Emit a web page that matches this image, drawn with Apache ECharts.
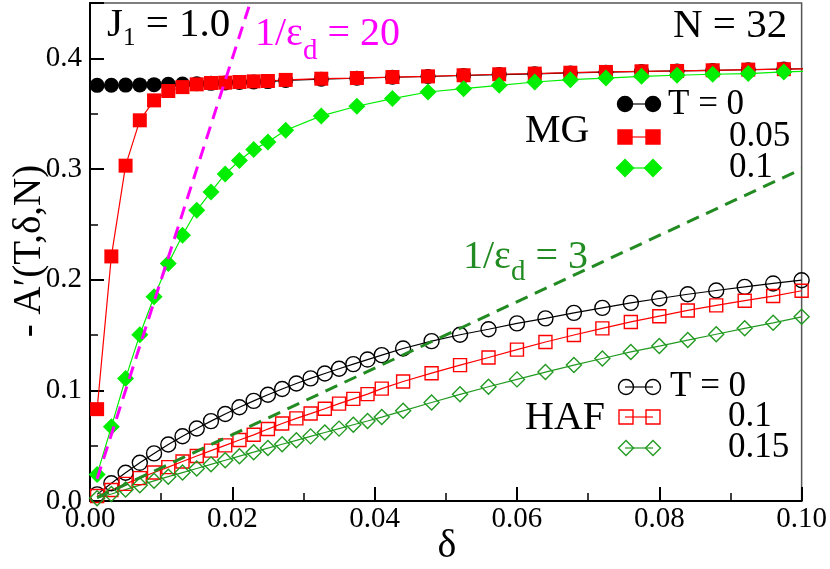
<!DOCTYPE html>
<html>
<head>
<meta charset="utf-8">
<script src="https://cdn.jsdelivr.net/npm/echarts@6/dist/echarts.min.js"></script>
<style>
  html, body { margin: 0; padding: 0; background: #fff; }
  #chart { width: 830px; height: 569px; }
</style>
</head>
<body>
<div id="chart"></div>
<script>
// MG chain: delta values and -A' for T = 0, 0.05, 0.1
const mgDelta = [0.001, 0.003, 0.005, 0.007, 0.009, 0.011, 0.013, 0.015, 0.017, 0.019, 0.021, 0.023, 0.025, 0.0275,
                 0.0325, 0.0375, 0.0425, 0.0475, 0.0525, 0.0575, 0.0625, 0.0675, 0.0725, 0.0775, 0.0825, 0.0875, 0.0925, 0.0975, 0.1025];
const mgT0   = [0.3756, 0.3757, 0.3758, 0.3760, 0.3762, 0.3765, 0.3768, 0.3771, 0.3774, 0.3778, 0.3782, 0.3786, 0.3790, 0.3800,
                0.3812, 0.3820, 0.3829, 0.3836, 0.3845, 0.3853, 0.3860, 0.3868, 0.3875, 0.3881, 0.3886, 0.3891, 0.3897, 0.3903, 0.3908];
const mgT005 = [0.083, 0.221, 0.303, 0.344, 0.362, 0.3705, 0.374, 0.3765, 0.3777, 0.378, 0.3786, 0.3792, 0.3795, 0.3805,
                0.3816, 0.3822, 0.3831, 0.3837, 0.3847, 0.3856, 0.3862, 0.387, 0.3877, 0.3883, 0.3886, 0.3892, 0.3898, 0.3902, 0.3907];
const mgT01  = [0.024, 0.067, 0.1108, 0.1503, 0.1845, 0.2146, 0.2402, 0.2627, 0.2793, 0.2955, 0.3076, 0.3177, 0.3245, 0.335,
                0.348, 0.3567, 0.3636, 0.3696, 0.3726, 0.3756, 0.3786, 0.3807, 0.3822, 0.3837, 0.3847, 0.3856, 0.3862, 0.3877, 0.3885];

// HAF chain: delta values and -A' for T = 0, 0.1, 0.15
const hafDelta = [0.001, 0.003, 0.005, 0.007, 0.009, 0.011, 0.013, 0.015, 0.017, 0.019, 0.021, 0.023, 0.025, 0.027,
                  0.029, 0.031, 0.033, 0.035, 0.037, 0.039, 0.041, 0.044, 0.048, 0.052, 0.056, 0.060, 0.064, 0.068,
                  0.072, 0.076, 0.080, 0.084, 0.088, 0.092, 0.096, 0.100];
const hafT0   = [0.006, 0.0160, 0.0255, 0.0345, 0.0430, 0.0510, 0.0585, 0.0655, 0.0722, 0.0786, 0.0847, 0.0905, 0.0960, 0.1012,
                 0.1062, 0.1108, 0.1152, 0.1195, 0.1237, 0.1278, 0.1318, 0.1378, 0.1445, 0.1502, 0.1552, 0.1605, 0.1650, 0.1700,
                 0.1745, 0.1790, 0.1830, 0.1868, 0.1902, 0.1935, 0.1966, 0.1995];
const hafT01  = [0.0045, 0.0100, 0.0155, 0.0207, 0.0257, 0.0306, 0.0357, 0.0407, 0.0455, 0.0503, 0.0551, 0.0598, 0.0650, 0.0700,
                 0.0747, 0.0790, 0.0834, 0.0880, 0.0923, 0.0966, 0.1015, 0.1080, 0.1155, 0.1228, 0.1297, 0.1368, 0.1437, 0.1500,
                 0.1560, 0.1618, 0.1670, 0.1722, 0.1768, 0.1810, 0.1852, 0.1900];
const hafT015 = [0.0025, 0.0063, 0.0103, 0.0143, 0.0182, 0.0220, 0.0257, 0.0294, 0.0331, 0.0368, 0.0405, 0.0441, 0.0478, 0.0513,
                 0.0548, 0.0584, 0.0619, 0.0654, 0.0689, 0.0723, 0.0758, 0.0815, 0.0890, 0.0964, 0.1032, 0.1099, 0.1165, 0.1228,
                 0.1288, 0.1347, 0.1400, 0.1454, 0.1507, 0.1560, 0.1610, 0.1664];

// dashed reference lines, endpoints
const eps20X = [0.001, 0.0225];
const eps20Y = [0.02, 0.45];
const eps3X = [0.001, 0.1];
const eps3Y = [0.003, 0.3];

const xTickLabels = ['0.00', '0.02', '0.04', '0.06', '0.08', '0.10'];
const yTickLabels = ['0.0', '0.1', '0.2', '0.3', '0.4'];

const FONT = '"Liberation Serif", "Times New Roman", serif';
const GREEN = '#00ee00';
const DKGREEN = '#229a22';

const pairs = (xs, ys) => xs.map((x, i) => [x, ys[i]]);

const lineSeries = (name, xs, ys, symbol, size, color, hollow) => ({
    name: name,
    type: 'line',
    data: pairs(xs, ys),
    symbol: symbol,
    symbolSize: size,
    clip: true,
    lineStyle: { color: color, width: 1.2 },
    itemStyle: hollow
        ? { color: 'rgba(255,255,255,0)', borderColor: color, borderWidth: 1.4 }
        : { color: color },
    animation: false,
});

const dashSeries = (xs, ys, color) => ({
    type: 'line',
    data: pairs(xs, ys),
    symbol: 'none',
    clip: true,
    z: 5,
    lineStyle: { color: color, width: 3, type: [13, 8] },
    animation: false,
});

const txt = (x, y, text, size, color, rich) => ({
    type: 'text',
    x: x,
    y: y,
    style: {
        text: text,
        fontSize: size,
        fontFamily: FONT,
        fill: color,
        verticalAlign: 'middle',
        rich: rich || {},
    },
});

const sub = (size, pad, color) => ({ s: { fontSize: size, fontFamily: FONT, fill: color, padding: [pad, 0, 0, 0] } });

// legend entries: line with two markers
const legendLine = (y, color) => ({ type: 'line', shape: { x1: 625, y1: y, x2: 653, y2: y }, style: { stroke: color, lineWidth: 1.2 } });
const legendCircle = (x, y, fill, stroke) => ({ type: 'circle', shape: { cx: x, cy: y, r: 7.5 }, style: { fill: fill, stroke: stroke, lineWidth: 1.4 } });
const legendRect = (x, y, fill, stroke) => ({ type: 'rect', shape: { x: x - 7, y: y - 7, width: 14, height: 14 }, style: { fill: fill, stroke: stroke, lineWidth: 1.4 } });
const legendDiamond = (x, y, r, fill, stroke) => ({ type: 'polygon', shape: { points: [[x, y - r], [x + r, y], [x, y + r], [x - r, y]] }, style: { fill: fill, stroke: stroke, lineWidth: 1.4 } });

const chart = echarts.init(document.getElementById('chart'));

const axisCommon = {
    axisLine: { onZero: false, lineStyle: { color: '#000', width: 2 } },
    splitLine: { show: false },
};

chart.setOption({
    backgroundColor: '#fff',
    animation: false,
    grid: { left: 90, right: 28, top: 3, bottom: 68, show: true, borderColor: '#555', borderWidth: 1.5 },
    xAxis: {
        type: 'value', min: 0, max: 0.1, interval: 0.02,
        ...axisCommon,
        axisTick: { inside: true, length: 14, lineStyle: { color: '#000', width: 2 } },
        minorTick: { show: true, splitNumber: 2, length: 8, lineStyle: { color: '#000', width: 1.5 } },
        axisLabel: { formatter: (v, i) => xTickLabels[i] || '', fontFamily: FONT, fontSize: 29, color: '#000', margin: 4 },
    },
    yAxis: [
        {
            type: 'value', min: 0, max: 0.45, interval: 0.1,
            ...axisCommon,
            axisTick: { inside: true, length: 14, lineStyle: { color: '#000', width: 2 } },
            axisLabel: { formatter: (v, i) => yTickLabels[i] || '', fontFamily: FONT, fontSize: 29, color: '#000', margin: 8 },
        },
        {
            type: 'value', min: 0, max: 0.45, interval: 0.05, position: 'left',
            ...axisCommon,
            axisTick: { inside: true, length: 8, lineStyle: { color: '#000', width: 1.5 } },
            axisLabel: { show: false },
        },
    ],
    series: [
        lineSeries('MG T = 0', mgDelta, mgT0, 'circle', 15, '#000', false),
        lineSeries('MG T = 0.05', mgDelta, mgT005, 'rect', 14, '#ff0000', false),
        lineSeries('MG T = 0.1', mgDelta, mgT01, 'diamond', 17, GREEN, false),
        lineSeries('HAF T = 0', hafDelta, hafT0, 'circle', 15, '#000', true),
        lineSeries('HAF T = 0.1', hafDelta, hafT01, 'rect', 13, '#ff0000', true),
        lineSeries('HAF T = 0.15', hafDelta, hafT015, 'diamond', 15, DKGREEN, true),
        dashSeries(eps20X, eps20Y, '#ff00ff'),
        dashSeries(eps3X, eps3Y, '#228b22'),
    ],
    graphic: {
        elements: [
            txt(107, 25, 'J{s|1} = 1.0', 41, '#000', sub(25, 26, '#000')),
            txt(255, 34, '1/ε{s|d} = 20', 40, '#ff00ff', sub(29, 34, '#ff00ff')),
            txt(673, 26, 'N = 32', 41, '#000'),
            txt(463, 257, '1/ε{s|d} = 3', 40, '#228b22', sub(29, 30, '#228b22')),
            txt(525, 131, 'MG', 40, '#000'),
            txt(525, 418, 'HAF', 40, '#000'),
            {
                type: 'text', x: 30, y: 251, rotation: Math.PI / 2,
                style: { text: '- A′(T,δ,N)', fontSize: 39, fontFamily: FONT, fill: '#000', align: 'center', verticalAlign: 'middle' },
            },
            {
                type: 'text', x: 447, y: 546,
                style: { text: 'δ', fontSize: 40, fontFamily: FONT, fill: '#000', align: 'center', verticalAlign: 'middle' },
            },
            // MG legend
            legendLine(104, '#000'), legendCircle(625, 104, '#000', '#000'), legendCircle(653, 104, '#000', '#000'),
            txt(668, 105, 'T = 0', 35, '#000'),
            legendLine(137, '#ff0000'), legendRect(625, 137, '#ff0000', '#ff0000'), legendRect(653, 137, '#ff0000', '#ff0000'),
            txt(729, 137, '0.05', 35, '#000'),
            legendLine(168, GREEN), legendDiamond(625, 168, 8.5, GREEN, GREEN), legendDiamond(653, 168, 8.5, GREEN, GREEN),
            txt(729, 168, '0.1', 35, '#000'),
            // HAF legend
            legendLine(387, '#000'), legendCircle(626, 387, 'rgba(0,0,0,0)', '#000'), legendCircle(653, 387, 'rgba(0,0,0,0)', '#000'),
            txt(670, 387, 'T = 0', 35, '#000'),
            legendLine(417, '#ff0000'), legendRect(626, 417, 'rgba(0,0,0,0)', '#ff0000'), legendRect(653, 417, 'rgba(0,0,0,0)', '#ff0000'),
            txt(728, 417, '0.1', 35, '#000'),
            legendLine(448, DKGREEN), legendDiamond(626, 448, 7.5, 'rgba(0,0,0,0)', DKGREEN), legendDiamond(653, 448, 7.5, 'rgba(0,0,0,0)', DKGREEN),
            txt(728, 448, '0.15', 35, '#000'),
        ],
    },
});
</script>
</body>
</html>
